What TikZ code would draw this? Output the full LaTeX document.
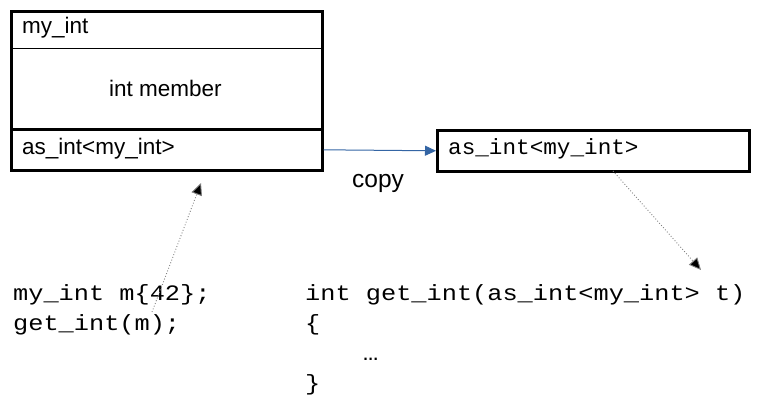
\documentclass[tikz,border=0pt]{standalone}
\usepackage{fontspec}
\setmainfont{Liberation Sans}
\newfontfamily\codefont[FakeStretch=1.15]{Liberation Mono}
\newfontfamily\boxcodefont[FakeStretch=1.03]{Liberation Mono}
\usetikzlibrary{arrows.meta}
\definecolor{arrowblue}{HTML}{3465A4}
\tikzset{
  boxframe/.style={draw=black, line width=2.6pt, rectangle, inner sep=0pt, anchor=north west},
  sanslabel/.style={inner sep=0pt, font=\fontsize{22.5}{27}\selectfont},
  codeline/.style={inner sep=0pt, anchor=base west, font=\codefont\fontsize{22}{30}\selectfont},
  boxcode/.style={inner sep=0pt, anchor=west, font=\boxcodefont\fontsize{22}{30}\selectfont},
  copyarrow/.style={draw=arrowblue, line width=1pt, -{Triangle[length=11pt,width=10pt]}, arrowblue},
  refarrow/.style={draw=gray, line width=0.9pt, dotted, -{Triangle[length=12pt,width=11pt,fill=black]}},
}
\begin{document}
\begin{tikzpicture}[x=1pt,y=-1pt]
\useasboundingbox (0,0) rectangle (763,402);
% left object
\node[boxframe, minimum width=311pt, minimum height=118pt] (obj) at (10,10) {};
\node[boxframe, minimum width=311pt, minimum height=41pt] (base) at (10,128) {};
\coordinate (divl) at (10,48);
\coordinate (divr) at (321,48);
\draw[line width=1pt] (divl) -- (divr);
\node[sanslabel, anchor=west] (name) at (22,28) {my\_int};
\node[sanslabel] (member) at (165.5,88) {int member};
\node[sanslabel, anchor=west] (baselbl) at (22,149) {as\_int<my\_int>};
% right object
\node[boxframe, minimum width=312pt, minimum height=41pt] (copyobj) at (436,129) {};
\node[boxcode] (copylbl) at (448,149) {as\_int<my\_int>};
% copy arrow
\draw[copyarrow] (base.east) -- (copyobj.west);
\node[sanslabel, font=\fontsize{24.5}{28}\selectfont] (copytxt) at (378,183) {copy};
% code
\node[codeline] (c1) at (13,300) {my\_int m\{42\};};
\node[codeline] (c2) at (13,330) {get\_int(m);};
\node[codeline] (d1) at (305,300) {int get\_int(as\_int<my\_int> t)};
\node[codeline] (d2) at (305,330) {\{};
\node[codeline] (d3) at (363,360) {…};
\node[codeline] (d4) at (305,390) {\}};
% reference arrows
\coordinate (mref) at (152,312);
\coordinate (basetip) at (201,183);
\coordinate (copytail) at (613,171);
\coordinate (paramtip) at (701,270);
\draw[refarrow] (mref) -- (basetip);
\draw[refarrow] (copytail) -- (paramtip);
\end{tikzpicture}
\end{document}
